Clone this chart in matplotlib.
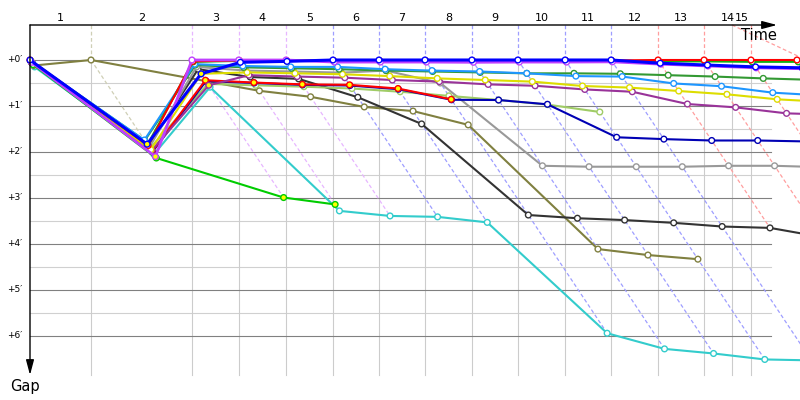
import matplotlib
matplotlib.use('Agg')
import matplotlib.pyplot as plt
from matplotlib.colors import to_rgb

# leader crossing times in minutes, lap 0 .. lap 15
lap_times = [0.0, 1.99, 5.28, 6.81, 8.35, 9.88, 11.38, 12.88, 14.41, 15.91,
             17.45, 18.95, 20.48, 21.98, 23.51, 25.01]
t_now = 22.89
lap_labels = ['1', '2', '3', '4', '5', '6', '7', '8', '9', '10',
              '11', '12', '13', '14', '15']
gap_ticks = [0, 1, 2, 3, 4, 5, 6]

# gap to the leader in minutes, one value per lap starting at lap 0
gap_teal = [0.15, 2.05, 0.59, 3.28, 3.39, 3.41, 3.53, 5.94, 6.28, 6.38, 6.51, 6.53]
gap_olive = [0.12, 0.00, 0.46, 0.67, 0.80, 1.02, 1.11, 1.41, 4.11, 4.24, 4.33]
gap_black = [0.06, 1.87, 0.20, 0.37, 0.41, 0.81, 1.39, 3.37, 3.44, 3.48, 3.54,
             3.62, 3.65, 3.85]
gap_gray = [0.05, 1.90, 0.15, 0.23, 0.25, 0.275, 0.23, 0.50, 2.30, 2.32, 2.32,
            2.32, 2.30, 2.30, 2.33]
gap_lightgreen = [0.08, 1.92, 0.52, 0.55, 0.58, 0.62, 0.69, 0.78, 0.87, 0.97, 1.13]
gap_navy = [0.07, 2.00, 0.46, 0.50, 0.54, 0.555, 0.635, 0.865, 0.87, 0.963, 1.68,
            1.72, 1.75, 1.75, 1.77]
gap_red2 = [0.05, 1.99, 0.44, 0.49, 0.53, 0.54, 0.62, 0.855]
gap_purple = [0.06, 1.97, 0.55, 0.33, 0.36, 0.385, 0.435, 0.47, 0.53, 0.56, 0.64,
              0.69, 0.957, 1.03, 1.16, 1.19]
gap_yellow = [0.04, 1.95, 0.30, 0.27, 0.29, 0.31, 0.35, 0.40, 0.435, 0.47, 0.565,
              0.60, 0.674, 0.746, 0.855, 0.91]
gap_darkgreen = [0.02, 1.75, 0.11, 0.16, 0.18, 0.20, 0.23, 0.25, 0.27, 0.29, 0.29,
                 0.30, 0.33, 0.36, 0.40, 0.43]
gap_skyblue = [0.03, 1.74, 0.09, 0.13, 0.15, 0.15, 0.20, 0.23, 0.25, 0.29, 0.35,
               0.36, 0.51, 0.57, 0.71, 0.77]
gap_lime = [0.10, 2.13, 2.99, 3.14]
gap_green = [0.01, 1.84, 0.04, 0.02, 0.02, 0.02, 0.02, 0.02, 0.02, 0.02, 0.02,
             0.02, 0.03, 0.03, 0.04, 0.04]
gap_red = [0.00, 1.86, 0.03, 0.01, 0.01, 0.01, 0.01, 0.01, 0.01, 0.01, 0.01,
           0.01, 0.00, 0.00, 0.00, 0.00]
gap_magenta = [0.05, 2.10, 0.00, 0.00, 0.00, 0.045, 0.045, 0.045, 0.05, 0.045,
               0.045, 0.04, 0.09, 0.13, 0.17, 0.19]
gap_blue = [0.00, 1.83, 0.30, 0.05, 0.03, 0.00, 0.00, 0.00, 0.00, 0.00, 0.00,
            0.00, 0.07, 0.11, 0.15, 0.17]

# laps marked with a yellow dot
yellow_magenta = [1]
yellow_blue = [1, 2]
yellow_red2 = [1, 2, 3, 4, 5, 6, 7]
yellow_lime = [1, 2, 3]
yellow_purple = [2]

# (gaps, colour, line width, yellow laps) in drawing order
drivers = [
    (gap_teal, '#33cccc', 1.5, []),
    (gap_olive, '#808040', 1.5, []),
    (gap_black, '#333333', 1.5, []),
    (gap_gray, '#999999', 1.5, []),
    (gap_lightgreen, '#a0cc66', 1.5, []),
    (gap_navy, '#0000b4', 1.5, []),
    (gap_red2, '#ff0000', 1.5, yellow_red2),
    (gap_purple, '#993399', 1.5, yellow_purple),
    (gap_yellow, '#dddd00', 1.5, []),
    (gap_darkgreen, '#339933', 1.5, []),
    (gap_skyblue, '#1e96ff', 1.5, []),
    (gap_lime, '#00cc00', 1.5, yellow_lime),
    (gap_green, '#11b011', 1.5, []),
    (gap_red, '#ff0000', 1.5, []),
    (gap_magenta, '#bf40ff', 2.0, yellow_magenta),
    (gap_blue, '#0000ff', 2.2, yellow_blue),
]

px_min = 46 / 1.5          # horizontal pixels per minute of time
y_top = -35 / 46           # top axis line
y_bot = 315 / 46           # end of the gap axis
grid_end = 741 / px_min


def light(c, f=0.62):
    r, g, b = to_rgb(c)
    return (r + (1 - r) * f, g + (1 - g) * f, b + (1 - b) * f)


fig = plt.figure(figsize=(8, 4), dpi=100)
ax = fig.add_axes([0, 0, 1, 1])
ax.set_xlim(-30 / px_min, 770 / px_min)
ax.set_ylim(340 / 46, -60 / 46)
ax.axis('off')

# horizontal grid
for g in gap_ticks:
    ax.plot([0, grid_end], [g, g], color='#808080', lw=0.8, zorder=1)
    ax.text(-8 / px_min, g, '+%d\u2032' % g, ha='right', va='center', fontsize=6.5)
for g in gap_ticks[:-1]:
    ax.plot([0, grid_end], [g + 0.5, g + 0.5], color='#d0d0d0', lw=0.8, zorder=0.5)

# leader lap lines and their diagonals
for k in range(1, len(lap_labels)):
    T = lap_times[k]
    at_lap = [(d[0][k], d[1]) for d in drivers if len(d[0]) > k]
    lead_col = min(at_lap, key=lambda p: p[0])[1]
    gmax = max(p[0] for p in at_lap)
    c = light(lead_col)
    ax.plot([T, T], [y_top, 0], color=c, lw=0.9, ls=(0, (3, 2)), zorder=2)
    ax.plot([T, T], [0, y_bot], color='#cccccc', lw=0.8, zorder=0.5)
    ax.plot([T, T + gmax], [0, gmax], color=c, lw=0.9, ls=(0, (3, 2)), zorder=2)

ax.plot([t_now, t_now], [y_top, y_bot], color='#cccccc', lw=0.8, zorder=0.5)
ax.plot([t_now, t_now + 3], [y_top, y_top + 3 * 0.314], color=light('#ff0000'),
        lw=0.9, ls=(0, (3, 2)), zorder=2)

# lap numbers
for i, lab in enumerate(lap_labels):
    if i + 1 < len(lap_labels):
        xm = (lap_times[i] + lap_times[i + 1]) / 2
    else:
        xm = (t_now + lap_times[i]) / 2
    ax.text(xm, -42 / 46, lab, ha='center', va='center', fontsize=8)

# drivers
z = 3
for gaps, col, lw, yl in drivers:
    xs = [lap_times[k] + g for k, g in enumerate(gaps)]
    ax.plot(xs, gaps, color=col, lw=lw, zorder=z, solid_joinstyle='round')
    fc = ['#ffff00' if k in yl else 'white' for k in range(len(gaps))]
    ax.scatter(xs, gaps, s=17, facecolors=fc, edgecolors=col, linewidths=1,
               zorder=z + 0.5)
    z += 1

# axes with arrows
arr = dict(arrowstyle='-|>,head_length=0.75,head_width=0.2', color='black',
           lw=1, mutation_scale=12, shrinkA=0, shrinkB=0)
ax.annotate('', xy=(747 / px_min, y_top), xytext=(0, y_top), arrowprops=arr,
            zorder=30)
ax.annotate('', xy=(0, y_bot), xytext=(0, y_top), arrowprops=arr, zorder=30)
ax.text(747 / px_min, -25 / 46, 'Time', ha='right', va='center', fontsize=10.5)
ax.text(-5 / px_min, 326 / 46, 'Gap', ha='center', va='center', fontsize=10.5)

fig.savefig('out.png', dpi=100)
